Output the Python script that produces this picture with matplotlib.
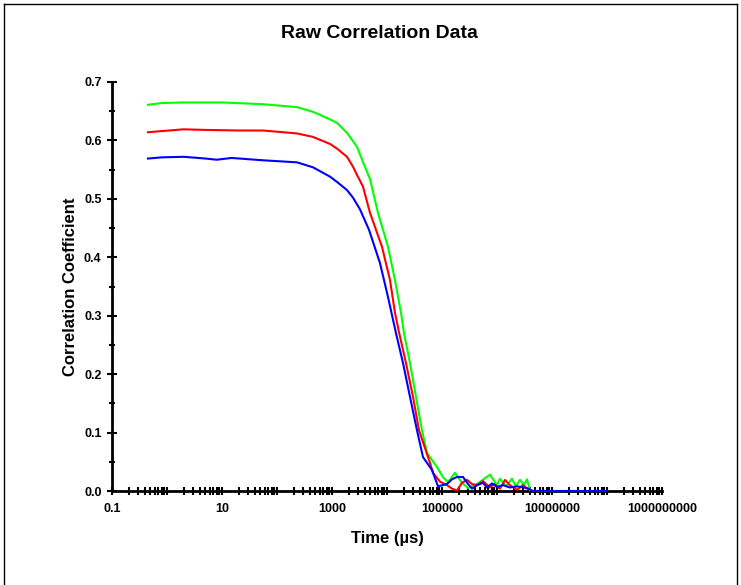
#!/usr/bin/env python3

import numpy as np
import matplotlib
matplotlib.use("Agg")
from matplotlib import pyplot as plt
from matplotlib import ticker
from matplotlib.lines import Line2D

plt.rcParams['font.family'] = ['Liberation Sans', 'DejaVu Sans']

# time (us) / correlation coefficient
green_t = [0.45, 0.8, 2, 10, 55.6, 231, 451, 920, 1233, 1875, 2850, 3660, 4910,
           6860, 10430, 13970, 17970, 20380, 26200, 33680, 43300, 53400, 81100,
           104000, 128500, 172300, 231000, 296900, 433000, 746000, 1.0e6, 1.134e6,
           1.46e6, 1.87e6, 2.21e6, 2.62e6, 3.1e6, 3.51e6, 3.98e6]
green_v = [0.661, 0.664, 0.665, 0.665, 0.662, 0.657, 0.649, 0.636, 0.630, 0.613,
           0.589, 0.563, 0.534, 0.476, 0.418, 0.361, 0.305, 0.270, 0.219, 0.161,
           0.104, 0.065, 0.041, 0.024, 0.015, 0.031, 0.014, 0.005, 0.012, 0.028,
           0.010, 0.021, 0.008, 0.021, 0.008, 0.019, 0.010, 0.020, 0.002]

red_t = [0.45, 0.8, 2, 5, 20, 55.6, 231, 451, 920, 1233, 1875, 2410, 2850, 3660,
         4910, 8110, 11340, 13970, 16500, 22150, 29710, 38200, 60500, 68600, 91960,
         123300, 152000, 187400, 231000, 284800, 351100, 433000, 556000, 746000,
         882000, 1.134e6, 1.4e6, 1.72e6, 2.31e6, 2.97e6, 3.66e6]
red_v = [0.614, 0.616, 0.619, 0.618, 0.617, 0.617, 0.612, 0.606, 0.594, 0.586,
         0.572, 0.555, 0.541, 0.521, 0.476, 0.418, 0.361, 0.305, 0.272, 0.219,
         0.161, 0.104, 0.048, 0.031, 0.016, 0.010, 0.004, 0.001, 0.014, 0.019,
         0.012, 0.010, 0.017, 0.006, 0.012, 0.004, 0.019, 0.010, 0.002, 0.010,
         0.003]

blue_t = [0.45, 0.8, 2, 5, 8, 15, 55.6, 231, 451, 920, 1233, 1875, 2410,
          3230, 4710, 7460, 10430, 14580, 19540, 26200, 35100, 45100, 65800, 84600,
          123300, 152000, 187400, 241000, 296900, 351100, 433000, 556000, 658000,
          811000, 1.0e6, 1.29e6, 1.72e6, 2.31e6, 3.51e6, 4.51e6, 1e7, 3e7, 1e8]
blue_v = [0.569, 0.571, 0.572, 0.569, 0.567, 0.570, 0.566, 0.5625, 0.554, 0.538,
          0.529, 0.515, 0.502, 0.482, 0.447, 0.390, 0.332, 0.270, 0.219,
          0.161, 0.104, 0.058, 0.036, 0.008, 0.012, 0.020, 0.024, 0.024, 0.012,
          0.004, 0.010, 0.014, 0.006, 0.013, 0.007, 0.010, 0.006, 0.008, 0.005,
          0.0, 0.0, 0.0, 0.0]

label_ticks = [0.1, 10, 1000, 100000, 10000000, 1000000000]
label_text = ['0.1', '10', '1000', '100000', '10000000', '1000000000']

W, H = 741, 585
fig = plt.figure(figsize=(W / 100, H / 100), dpi=100)
ax = fig.add_axes([112 / W, (H - 491) / H, 550 / W, 409 / H])

ax.plot(green_t, green_v, color='#00ff00', lw=1.5, zorder=3)
ax.plot(red_t, red_v, color='#ff0000', lw=1.5, zorder=4)
ax.plot(blue_t, blue_v, color='#0000ff', lw=1.5, zorder=5, clip_on=False)

ax.set_xscale('log')
ax.set_xlim(0.1, 1e9)
ax.set_ylim(0, 0.7)

ax.xaxis.set_major_locator(ticker.FixedLocator(label_ticks))
ax.xaxis.set_major_formatter(ticker.FixedFormatter(label_text))
ax.xaxis.set_minor_locator(ticker.LogLocator(base=10, subs=np.arange(1, 10), numticks=100))
ax.xaxis.set_minor_formatter(ticker.NullFormatter())

ax.yaxis.set_major_locator(ticker.MultipleLocator(0.1))
ax.yaxis.set_minor_locator(ticker.MultipleLocator(0.05))
ax.yaxis.set_major_formatter(ticker.FormatStrFormatter('%.1f'))

for s in ['top', 'right']:
    ax.spines[s].set_visible(False)
for s in ['left', 'bottom']:
    ax.spines[s].set_linewidth(2)

ax.tick_params(which='both', direction='inout', width=1.5, colors='black')
ax.tick_params(axis='x', which='both', length=6)
ax.tick_params(axis='y', which='major', length=7)
ax.tick_params(axis='y', which='minor', length=5)
ax.tick_params(axis='x', which='major', pad=6)
ax.tick_params(axis='y', which='major', pad=4)
for lab in ax.get_xticklabels() + ax.get_yticklabels():
    lab.set_fontsize(9)
    lab.set_fontweight('bold')

ax.set_xlabel('Time (\u00b5s)', fontsize=12, fontweight='bold', labelpad=11)
ax.set_ylabel('Correlation Coefficient', fontsize=12, fontweight='bold', labelpad=4)

fig.text(379 / W, (H - 33) / H, 'Raw Correlation Data', ha='center', va='center',
         fontsize=14, fontweight='bold')

# outer frame of the picture
for xs, ys in [([4 / W, 4 / W], [0, 1 - 4 / H]),
               ([4 / W, 737 / W], [1 - 4 / H, 1 - 4 / H]),
               ([737 / W, 737 / W], [1 - 4 / H, 0])]:
    fig.add_artist(Line2D(xs, ys, transform=fig.transFigure, color='black', lw=1))

plt.savefig('out.png', dpi=100)
